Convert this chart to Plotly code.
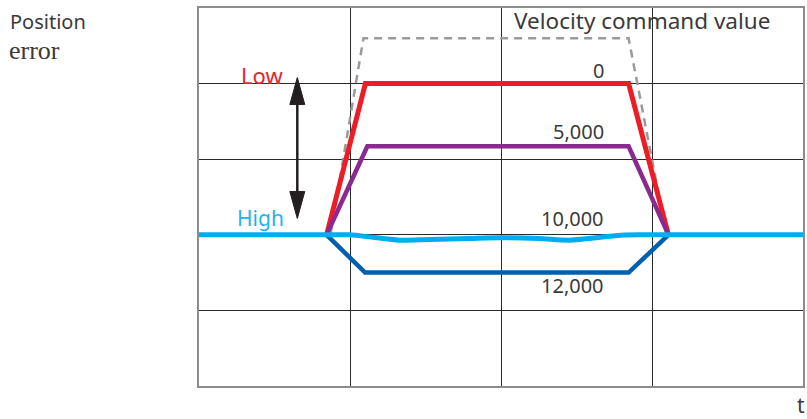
import plotly.graph_objects as go

# ---- data (x in time divisions, y in position-error divisions) ----
red_x = [0.845, 1.102, 2.845, 3.109]
red_y = [2.0, 4.0, 4.0, 2.0]
purple_x = [0.845, 1.115, 2.845, 3.109]
purple_y = [2.0, 3.17, 3.17, 2.0]
blue_x = [0.845, 1.10, 2.845, 3.109]
blue_y = [2.0, 1.50, 1.50, 2.0]
cmd_x = [0.871, 1.089, 2.845, 3.096]
cmd_y = [2.0, 4.6, 4.6, 2.0]
cyan_x = [0.0, 0.865, 0.997, 1.162, 1.327, 1.525, 1.789, 1.987, 2.251, 2.449, 2.647, 2.812, 2.977, 4.0]
cyan_y = [2.0, 2.0, 2.0, 1.964, 1.929, 1.938, 1.951, 1.96, 1.951, 1.929, 1.964, 1.997, 2.0, 2.0]

arrow_x = 0.651
arrow_top = 4.08
arrow_bottom = 2.216
head_len = 0.357
head_half = 0.0495

speed_labels = ["0", "5,000", "10,000", "12,000"]
speed_label_y = [4.17, 3.37, 2.22, 1.33]
speed_label_x = 2.695

fig = go.Figure()

fig.add_trace(go.Scatter(x=cmd_x, y=cmd_y, mode="lines",
                         line=dict(color="#9a9a9a", width=2.5, dash="8px,6px"),
                         hoverinfo="skip"))
fig.add_trace(go.Scatter(x=red_x, y=red_y, mode="lines",
                         line=dict(color="#ee1c25", width=5), hoverinfo="skip"))
fig.add_trace(go.Scatter(x=purple_x, y=purple_y, mode="lines",
                         line=dict(color="#8b2a8e", width=4.5), hoverinfo="skip"))
fig.add_trace(go.Scatter(x=blue_x, y=blue_y, mode="lines",
                         line=dict(color="#0060b0", width=4.5), hoverinfo="skip"))
fig.add_trace(go.Scatter(x=cyan_x, y=cyan_y, mode="lines",
                         line=dict(color="#00aeef", width=5, shape="spline", smoothing=0.8),
                         hoverinfo="skip"))

# double-headed arrow
fig.add_trace(go.Scatter(x=[arrow_x, arrow_x],
                         y=[arrow_top - head_len * 0.8, arrow_bottom + head_len * 0.8],
                         mode="lines", line=dict(color="#231f20", width=2.5),
                         hoverinfo="skip"))
fig.add_trace(go.Scatter(x=[arrow_x, arrow_x - head_half, arrow_x + head_half, arrow_x],
                         y=[arrow_top, arrow_top - head_len, arrow_top - head_len, arrow_top],
                         mode="lines", fill="toself", fillcolor="#231f20",
                         line=dict(color="#231f20", width=1), hoverinfo="skip"))
fig.add_trace(go.Scatter(x=[arrow_x, arrow_x - head_half, arrow_x + head_half, arrow_x],
                         y=[arrow_bottom, arrow_bottom + head_len, arrow_bottom + head_len, arrow_bottom],
                         mode="lines", fill="toself", fillcolor="#231f20",
                         line=dict(color="#231f20", width=1), hoverinfo="skip"))

sans = "Noto Sans"
txt = "#3a3a3a"
annotations = []
for lab, yy in zip(speed_labels, speed_label_y):
    annotations.append(dict(x=speed_label_x, y=yy, xref="x", yref="y", text=lab,
                            showarrow=False, xanchor="right", yanchor="middle",
                            font=dict(family=sans, size=20, color=txt)))
annotations += [
    dict(x=3.795, y=4.84, xref="x", yref="y", text="Velocity command value", showarrow=False,
         xanchor="right", yanchor="middle", font=dict(family=sans, size=22.5, color=txt)),
    dict(x=0.57, y=4.12, xref="x", yref="y", text="Low", showarrow=False,
         xanchor="right", yanchor="middle", font=dict(family=sans, size=22, color="#e8232f")),
    dict(x=0.575, y=2.225, xref="x", yref="y", text="High", showarrow=False,
         xanchor="right", yanchor="middle", font=dict(family=sans, size=21, color="#1eb4ef")),
    dict(x=0.997, y=-0.049, xref="paper", yref="paper", text="t", showarrow=False,
         xanchor="center", yanchor="middle", font=dict(family=sans, size=21, color=txt)),
    dict(x=-0.316, y=0.9656, xref="paper", yref="paper", text="Position", showarrow=False,
         xanchor="left", yanchor="middle", font=dict(family=sans, size=20, color=txt)),
    dict(x=-0.318, y=0.8875, xref="paper", yref="paper", text="error", showarrow=False,
         xanchor="left", yanchor="middle",
         font=dict(family="Liberation Serif", size=26, color=txt)),
]

fig.update_layout(
    width=807, height=419,
    margin=dict(l=199, r=2, t=8, b=33),
    paper_bgcolor="white", plot_bgcolor="white",
    showlegend=False,
    annotations=annotations,
)
fig.update_xaxes(range=[0, 4], dtick=1, tick0=0, showgrid=True, gridcolor="#2a2a2a",
                 gridwidth=1, showticklabels=False, ticks="", zeroline=False,
                 showline=True, linecolor="#8c8c8c", linewidth=2, mirror=True,
                 fixedrange=True)
fig.update_yaxes(range=[0, 5], dtick=1, tick0=0, showgrid=True, gridcolor="#2a2a2a",
                 gridwidth=1, showticklabels=False, ticks="", zeroline=False,
                 showline=True, linecolor="#8c8c8c", linewidth=2, mirror=True,
                 fixedrange=True)

fig.write_html("out.html", config={"displayModeBar": False},
               post_script="document.body.style.margin='0px';document.body.style.overflow='hidden';")
